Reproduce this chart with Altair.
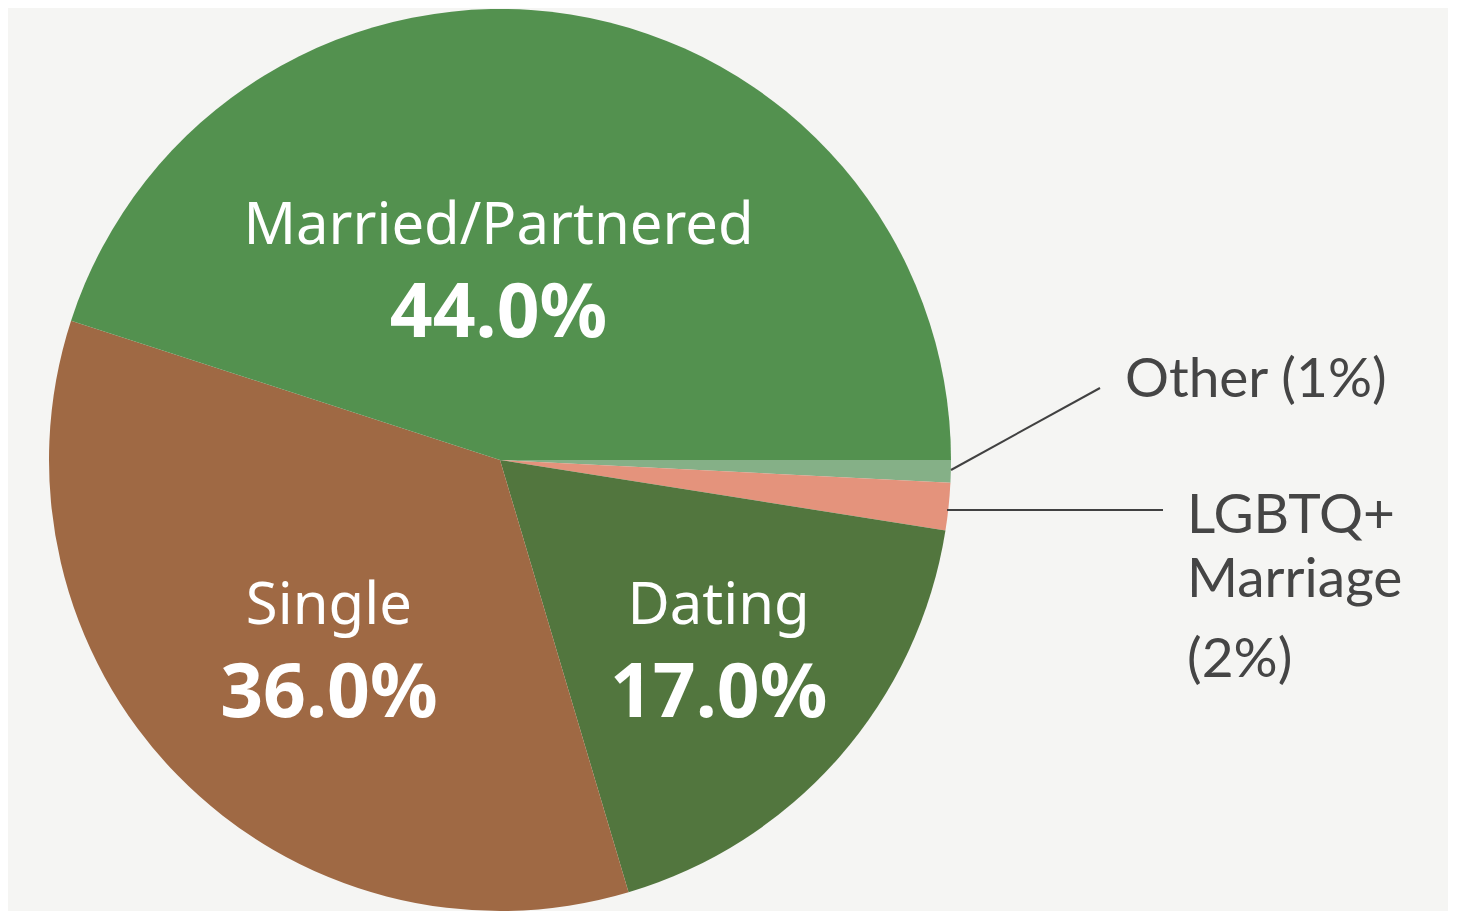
import math
import altair as alt
import pandas as pd

# ---- data (slice sizes as drawn; labels as printed) ----
categories = ["Other", "LGBTQ+ Marriage", "Dating", "Single", "Married/Partnered"]
values = [0.8, 1.7, 17.9, 34.6, 45.0]
pct_labels = ["1%", "2%", "17.0%", "36.0%", "44.0%"]
colors = ["#85B087", "#E4937C", "#52763E", "#9F6944", "#53914F"]

df = pd.DataFrame({
    "category": categories,
    "value": values,
    "pct": pct_labels,
    "order": list(range(len(categories))),
})

CX, CY, R = 492, 452, 451
tscale = alt.Scale(domain=[0, 100], range=[math.pi / 2, math.pi / 2 + 2 * math.pi])

base = (
    alt.Chart(df)
    .transform_joinaggregate(total="sum(value)")
    .transform_window(cum0="sum(value)", sort=[{"field": "order"}], frame=[None, 0])
    .transform_calculate(
        cum="100 * datum.cum0 / datum.total",
        start="100 * (datum.cum0 - datum.value) / datum.total",
    )
    .transform_calculate(mid="(datum.cum + datum.start) / 2")
)

arcs = base.mark_arc(outerRadius=R, stroke=None).encode(
    theta=alt.Theta("start:Q", scale=tscale),
    theta2="cum:Q",
    color=alt.Color("category:N", scale=alt.Scale(domain=categories, range=colors), legend=None),
    x=alt.value(CX),
    y=alt.value(CY),
)

INNER_FONT = "Noto Sans"
layers = [arcs]
# inner labels: (category, radius, dx, dy)
inner = [
    ("Married/Partnered", 195, -32, 0),
    ("Single", 253, 10, 10),
    ("Dating", 288, 2, -3),
]
for cat, rad, dx, dy in inner:
    sub = base.transform_filter(alt.datum.category == cat)
    name = sub.mark_text(
        radius=rad, dx=dx, dy=dy - 23, font=INNER_FONT, fontSize=58,
        color="white", align="center", baseline="alphabetic",
    ).encode(
        theta=alt.Theta("mid:Q", scale=tscale),
        text="category:N",
        x=alt.value(CX), y=alt.value(CY),
    )
    pct = sub.mark_text(
        radius=rad, dx=dx, dy=dy + 70, font=INNER_FONT, fontSize=75, fontWeight="bold",
        color="white", align="center", baseline="alphabetic",
    ).encode(
        theta=alt.Theta("mid:Q", scale=tscale),
        text="pct:N",
        x=alt.value(CX), y=alt.value(CY),
    )
    layers += [name, pct]

# leader lines
line_color = "#414141"
lead1 = alt.Chart(df).transform_filter(alt.datum.category == "Other").mark_rule(
    color=line_color, strokeWidth=2
).encode(x=alt.value(943), y=alt.value(462), x2=alt.value(1092), y2=alt.value(380))
lead2 = alt.Chart(df).transform_filter(alt.datum.category == "LGBTQ+ Marriage").mark_rule(
    color=line_color, strokeWidth=2
).encode(x=alt.value(939), y=alt.value(502), x2=alt.value(1155), y2=alt.value(502))
layers += [lead1, lead2]

OUT_FONT = "Lato"
out_color = "#454545"
outer_lines = [
    ("Other (1%)", 1117, 389),
    ("LGBTQ+", 1179, 525),
    ("Marriage", 1179, 589),
    ("(2%)", 1179, 669),
]
for txt, x, y in outer_lines:
    layers.append(
        alt.Chart(df).transform_filter(alt.datum.category == "Other").mark_text(
            text=txt, font=OUT_FONT, fontSize=55, color=out_color,
            align="left", baseline="alphabetic",
        ).encode(x=alt.value(x), y=alt.value(y))
    )

chart = (
    alt.layer(*layers)
    .properties(width=1440, height=896, padding=0, background="#F5F5F3")
    .configure_view(stroke=None)
)

chart.save("out.html", embed_options={"renderer": "svg", "actions": False})
